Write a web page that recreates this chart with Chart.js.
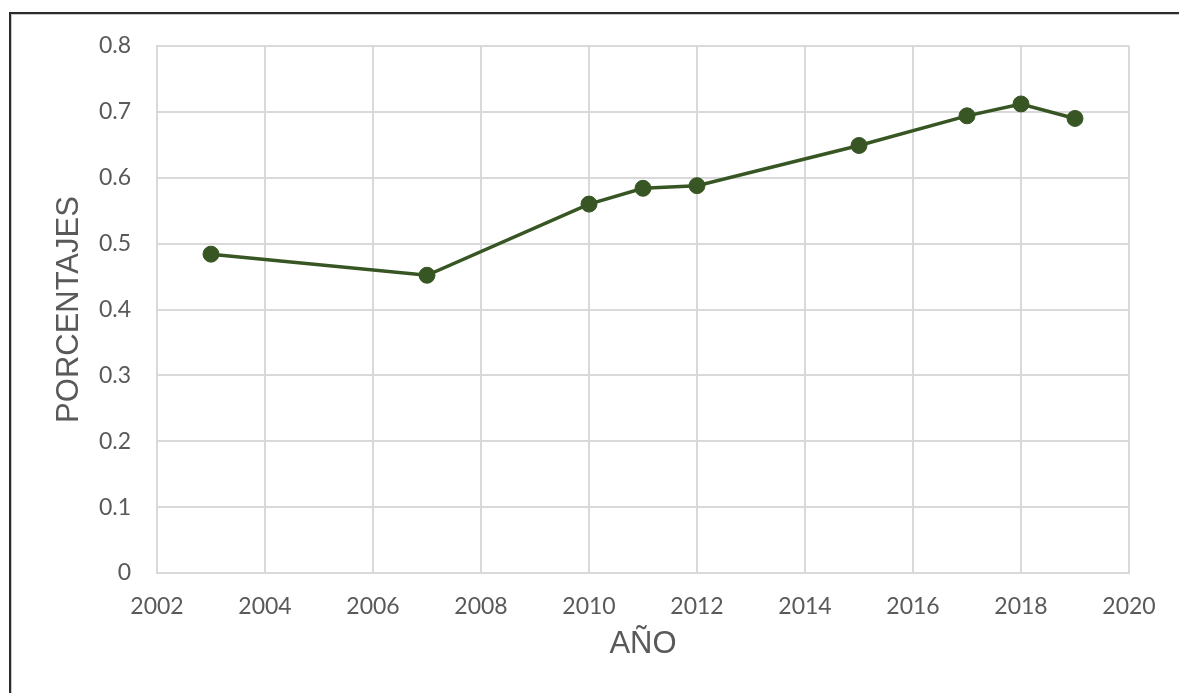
<!DOCTYPE html>
<html>
<head>
<meta charset="utf-8">
<script src="https://cdn.jsdelivr.net/npm/chart.js@4/dist/chart.umd.min.js"></script>
<style>
  html, body { margin:0; padding:0; background:#fff; }
  #marco { position:absolute; left:9px; top:12px; width:1200px; height:700px;
           border-top:2px solid #2b2b2b; border-left:2px solid #2b2b2b;
           box-shadow: inset 1px 1px 0 #c8c8c8; }
  #wrap { position:absolute; left:0; top:0; width:1179px; height:693px; }
</style>
</head>
<body>
<div id="marco"></div>
<div id="wrap"><canvas id="grafico"></canvas></div>
<script>
// datos
const anios      = [2003, 2007, 2010, 2011, 2012, 2015, 2017, 2018, 2019];
const porcentajes = [0.484, 0.452, 0.560, 0.584, 0.588, 0.649, 0.694, 0.712, 0.690];
const ticksX = [2002, 2004, 2006, 2008, 2010, 2012, 2014, 2016, 2018, 2020];
const ticksY = [0, 0.1, 0.2, 0.3, 0.4, 0.5, 0.6, 0.7, 0.8];

const verde = '#375623';
const gris  = '#d9d9d9';
const fuenteTick = { family: "Lato, 'Liberation Sans', sans-serif", size: 23 };
const fuenteTitulo = { family: "'Liberation Sans', Arial, sans-serif", size: 31 };

const puntos = anios.map((a, i) => ({ x: a, y: porcentajes[i] }));

new Chart(document.getElementById('grafico').getContext('2d'), {
  type: 'line',
  data: {
    datasets: [{
      label: 'Porcentaje',
      data: puntos,
      borderColor: verde,
      backgroundColor: verde,
      borderWidth: 3.5,
      pointRadius: 8,
      pointBorderWidth: 1,
      pointBackgroundColor: verde,
      pointBorderColor: verde,
      tension: 0
    }]
  },
  options: {
    responsive: true, maintainAspectRatio: false, animation: false,
    layout: { padding: { left: 0, top: 46, right: 50, bottom: 0 } },
    plugins: { legend: { display:false }, tooltip: { enabled:false } },
    scales: {
      x: {
        type: 'linear', min: 2002, max: 2020,
        afterBuildTicks: s => { s.ticks = ticksX.map(v => ({ value: v })); },
        afterFit: s => { s.height = 120; },
        ticks: { font: fuenteTick, color:'#595959', padding: 20, maxRotation: 0, autoSkip:false,
                 callback: v => String(v) },
        grid: { color: gris, lineWidth: 2, drawTicks: false },
        border: { color: gris, width: 2 },
        title: { display:true, text:'AÑO', font: fuenteTitulo, color:'#595959',
                 padding: { top: 30, bottom: 30 } }
      },
      y: {
        min: 0, max: 0.8,
        afterBuildTicks: s => { s.ticks = ticksY.map(v => ({ value: v })); },
        afterFit: s => { s.width = 157; },
        ticks: { font: fuenteTick, color:'#595959', padding: 26, autoSkip:false,
                 callback: v => String(v) },
        grid: { color: gris, lineWidth: 2, drawTicks: false },
        border: { color: gris, width: 2 },
        title: { display:true, text:'PORCENTAJES', font: fuenteTitulo, color:'#595959',
                 padding: { top: 51, bottom: 51 } }
      }
    }
  }
});
</script>
</body>
</html>
